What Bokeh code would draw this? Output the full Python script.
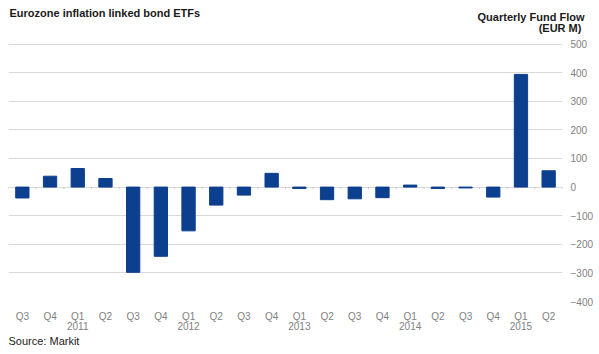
from bokeh.plotting import figure
from bokeh.models import Range1d, FixedTicker, LinearAxis, Label, Title
from bokeh.embed import file_html
from bokeh.resources import INLINE

quarters = ["Q3", "Q4", "Q1", "Q2", "Q3", "Q4", "Q1", "Q2", "Q3", "Q4",
            "Q1", "Q2", "Q3", "Q4", "Q1", "Q2", "Q3", "Q4", "Q1", "Q2"]
years = ["", "", "2011", "", "", "", "2012", "", "", "",
         "2013", "", "", "", "2014", "", "", "", "2015", ""]
flows = [-38, 38, 65, 30, -298, -242, -153, -63, -28, 48,
         -5, -44, -41, -37, 7, -5, -3, -35, 394, 57]
y_ticks = [-400, -300, -200, -100, 0, 100, 200, 300, 400, 500]

xs = list(range(1, len(flows) + 1))
FONT = "Liberation Sans"
GRAY = "#7f7f7f"

p = figure(width=599, height=354, x_range=Range1d(0.5, len(flows) + 0.5),
           y_range=Range1d(y_ticks[0], y_ticks[-1] + 2),
           output_backend="svg", toolbar_location=None,
           min_border_left=8, min_border_right=37, min_border_top=43, min_border_bottom=53,
           x_axis_location="below", y_axis_location="right")
p.outline_line_color = None
p.background_fill_color = "white"
p.border_fill_color = "white"

p.vbar(x=xs, top=flows, bottom=0, width=0.48, color="#0d3f8f")

# zero-line category boundary ticks
bounds = [i + 0.5 for i in range(0, len(flows) + 1)]
p.segment(x0=bounds, x1=bounds, y0=[-7] * len(bounds), y1=[0] * len(bounds),
          line_color="#c8c8c8", line_width=1)

# y axis (right)
yax = p.yaxis[0]
yax.ticker = FixedTicker(ticks=y_ticks)
yax.axis_line_color = None
yax.major_tick_line_color = None
yax.minor_tick_line_color = None
yax.major_tick_out = 0
yax.major_tick_in = 0
yax.minor_tick_out = 0
yax.major_label_standoff = 8
yax.major_label_text_color = GRAY
yax.major_label_text_font = FONT
yax.major_label_text_font_size = "10px"

p.ygrid.ticker = FixedTicker(ticks=y_ticks)
p.ygrid.grid_line_color = "#d9d9d9"
p.ygrid.grid_line_width = 1
p.xgrid.grid_line_color = None

# x axis: quarters
xax = p.xaxis[0]
xax.ticker = FixedTicker(ticks=xs)
xax.major_label_overrides = {x: q for x, q in zip(xs, quarters)}
xax.axis_line_color = None
xax.major_tick_line_color = None
xax.minor_tick_line_color = None
xax.major_tick_out = 0
xax.major_tick_in = 0
xax.minor_tick_out = 0
xax.major_label_standoff = 9
xax.major_label_text_color = GRAY
xax.major_label_text_font = FONT
xax.major_label_text_font_size = "10px"

# x axis: years
year_pos = [x for x, y in zip(xs, years) if y]
yax2 = LinearAxis(ticker=FixedTicker(ticks=year_pos),
                  major_label_overrides={x: y for x, y in zip(xs, years) if y},
                  axis_line_color=None, major_tick_line_color=None, minor_tick_line_color=None,
                  major_tick_out=0, major_tick_in=0, minor_tick_out=0,
                  major_label_standoff=-3, major_label_text_color=GRAY,
                  major_label_text_font=FONT, major_label_text_font_size="10px")
p.add_layout(yax2, "below")

p.add_layout(Title(text="Source: Markit", align="left", standoff=0, offset=0,
                   text_font=FONT, text_font_size="11px", text_font_style="normal",
                   text_color="#222222"), "below")

# header texts live in the top panel (outside the clipped frame)
p.add_layout(Label(x=9, y=6, x_units="canvas", y_units="canvas",
                   text="Eurozone inflation linked bond ETFs", text_baseline="top",
                   text_line_height=1.0,
                   text_font=FONT, text_font_size="11px", text_font_style="bold",
                   text_color="#1a1a1a"), "above")
p.add_layout(Label(x=584, y=10, x_units="canvas", y_units="canvas",
                   text="Quarterly Fund Flow", text_baseline="top", text_align="right",
                   text_line_height=1.0,
                   text_font=FONT, text_font_size="11px", text_font_style="bold",
                   text_color="#1a1a1a"), "above")
p.add_layout(Label(x=584, y=21, x_units="canvas", y_units="canvas",
                   text="(EUR  M)", text_baseline="top", text_align="right",
                   text_line_height=1.0,
                   text_font=FONT, text_font_size="11px", text_font_style="bold",
                   text_color="#1a1a1a"), "above")

open("out.html", "w").write(file_html(p, INLINE))
